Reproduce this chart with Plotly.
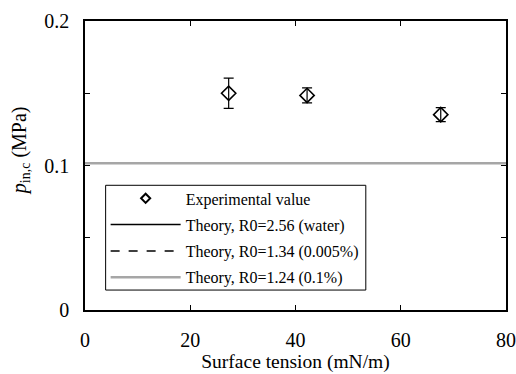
import plotly.graph_objects as go

# Experimental data
surface_tension = [27.3, 42.2, 67.6]
p_exp = [0.150, 0.1485, 0.1352]
p_err = [0.0104, 0.0052, 0.0048]

# Theory lines (constant over surface tension)
x_theory = [0, 80]
p_theory_water = [0.1015, 0.1015]
p_theory_0005 = [0.1015, 0.1015]
p_theory_01 = [0.1015, 0.1015]

# Tick labels
x_ticks = [0, 20, 40, 60, 80]
x_ticklabels = ["0", "20", "40", "60", "80"]
y_ticks = [0, 0.1, 0.2]
y_ticklabels = ["0", "0.1", "0.2"]

font_family = "Liberation Serif"

fig = go.Figure()
fig.add_trace(go.Scatter(
    x=surface_tension, y=p_exp, mode="markers", name="Experimental value",
    marker=dict(symbol="diamond-open", size=11, color="black", line=dict(width=1.6, color="black")),
    error_y=dict(type="data", array=p_err, visible=True, color="black", thickness=1.2, width=5),
    showlegend=False,
))
# legend-only entry (smaller diamond as in the reference legend)
fig.add_trace(go.Scatter(
    x=[None], y=[None], mode="markers", name="Experimental value",
    marker=dict(symbol="diamond-open", size=7, color="black", line=dict(width=2, color="black")),
    legendgroup="a",
))
fig.add_trace(go.Scatter(
    x=x_theory, y=p_theory_water, mode="lines", name="Theory, R0=2.56 (water)",
    line=dict(color="black", width=1.5), legendgroup="b",
))
fig.add_trace(go.Scatter(
    x=x_theory, y=p_theory_0005, mode="lines", name="Theory, R0=1.34 (0.005%)",
    line=dict(color="black", width=1.5, dash="dash"), legendgroup="c",
))
fig.add_trace(go.Scatter(
    x=x_theory, y=p_theory_01, mode="lines", name="Theory, R0=1.24 (0.1%)",
    line=dict(color="#a6a6a6", width=2.5), legendgroup="d",
))

axis_common = dict(
    showline=True, linecolor="black", linewidth=1.5, mirror="ticks",
    ticks="inside", ticklen=5, tickwidth=1, tickcolor="black",
    showgrid=False, zeroline=False, automargin=False,
    tickfont=dict(size=20, family=font_family, color="black"),
)

fig.update_layout(
    width=516, height=374,
    margin=dict(l=85, r=10, t=21, b=64, autoexpand=False),
    plot_bgcolor="white", paper_bgcolor="white",
    font=dict(family=font_family, color="black"),
    xaxis=dict(range=[0, 80], tickmode="array", tickvals=x_ticks, ticktext=x_ticklabels,
               ticklabelstandoff=11,
               title=dict(text="Surface tension (mN/m)", font=dict(size=19.5, family=font_family), standoff=1),
               **axis_common),
    yaxis=dict(range=[0, 0.2], tickmode="array", tickvals=y_ticks, ticktext=y_ticklabels,
               ticklabelstandoff=10,
               minor=dict(dtick=0.05, tick0=0, ticks="inside", ticklen=5, tickcolor="black"),
               **axis_common),
    annotations=[dict(
        text="<i>p</i><sub>in,c</sub> (MPa)", textangle=-90,
        xref="paper", yref="paper", x=-0.154, y=0.55, xanchor="center", yanchor="middle",
        showarrow=False, font=dict(size=20, family=font_family, color="black"),
    )],
    # legend frame
    shapes=[dict(type="rect", xref="paper", yref="paper",
                 x0=0.049, x1=0.667, y0=0.069, y1=0.4315,
                 line=dict(color="black", width=1), fillcolor="white", layer="above")],
    showlegend=True,
    legend=dict(x=0.049, y=0.445, xanchor="left", yanchor="top",
                borderwidth=0, bgcolor="rgba(0,0,0,0)",
                font=dict(size=16, family=font_family), tracegroupgap=2.5,
                itemwidth=70),
)

fig.write_html("out.html", config={"displayModeBar": False},
               post_script="document.body.style.margin='0';")
